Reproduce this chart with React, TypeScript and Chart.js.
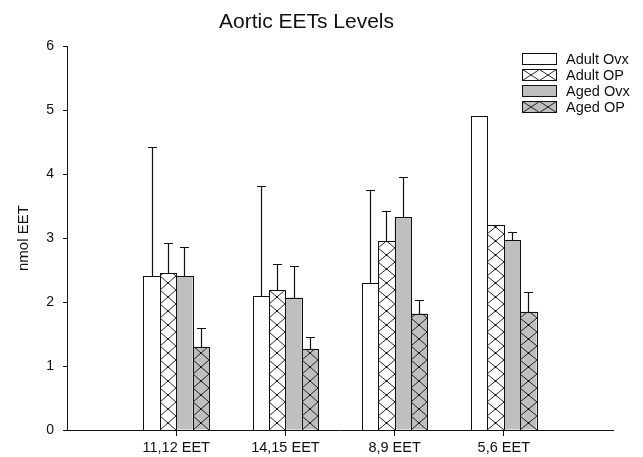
import React, { useEffect, useRef } from "react";
import { Chart, registerables } from "chart.js";

Chart.register(...registerables);

// ---------- data ----------
const categories = ["11,12 EET", "14,15 EET", "8,9 EET", "5,6 EET"];
const seriesNames = ["Adult Ovx", "Adult OP", "Aged Ovx", "Aged OP"];
const adultOvx = [2.4, 2.1, 2.3, 4.91];
const adultOvxErr = [2.03, 1.72, 1.45, null];
const adultOP = [2.46, 2.19, 2.96, 3.2];
const adultOPErr = [0.46, 0.41, 0.47, null];
const agedOvx = [2.4, 2.07, 3.33, 2.97];
const agedOvxErr = [0.46, 0.49, 0.62, 0.13];
const agedOP = [1.3, 1.27, 1.82, 1.85];
const agedOPErr = [0.3, 0.19, 0.21, 0.3];
const yTicks = [0, 1, 2, 3, 4, 5, 6];
const titleText = "Aortic EETs Levels";
const yTitle = "nmol EET";

// ---------- style ----------
const FONT = "'Liberation Sans', Arial, sans-serif";
const INK = "#111111";
const GRAY = "#bfbfbf";

const pad = (arr: (number | null)[]) => [null, ...arr, null];
const labels = ["", ...categories, ""];

function drawHatch(ctx: CanvasRenderingContext2D, left: number, top: number, w: number, h: number, cellW: number, cellH: number, dots: boolean) {
  const bottom = top + h;
  ctx.save();
  ctx.beginPath();
  ctx.rect(left, top, w, h);
  ctx.clip();
  ctx.strokeStyle = INK;
  ctx.lineWidth = 0.9;
  ctx.beginPath();
  for (let cx = left; cx < left + w - 0.5; cx += cellW) {
    for (let yk = bottom; yk > top - cellH; yk -= cellH) {
      ctx.moveTo(cx, yk);
      ctx.lineTo(cx + cellW, yk - cellH);
      ctx.moveTo(cx + cellW, yk);
      ctx.lineTo(cx, yk - cellH);
    }
  }
  ctx.stroke();
  if (dots) {
    ctx.fillStyle = INK;
    for (let cx = left; cx < left + w - 0.5; cx += cellW) {
      for (let yk = bottom; yk > top - cellH; yk -= cellH) {
        ctx.beginPath();
        ctx.arc(cx + cellW / 2, yk - cellH / 2, 1.1, 0, Math.PI * 2);
        ctx.fill();
      }
    }
  }
  ctx.restore();
}

const barDecor = {
  id: "barDecor",
  afterDatasetsDraw(chart: any) {
    const ctx = chart.ctx as CanvasRenderingContext2D;
    const yScale = chart.scales.y;
    // hatch + crisp borders
    chart.data.datasets.forEach((ds: any, di: number) => {
      const meta = chart.getDatasetMeta(di);
      meta.data.forEach((bar: any, i: number) => {
        const v = ds.data[i];
        if (v == null) return;
        const { x, y, base, width } = bar.getProps(["x", "y", "base", "width"], true);
        const l = Math.round(x - width / 2);
        const r = Math.round(x + width / 2);
        const t = Math.round(y);
        const b = Math.round(base);
        if (ds.hatched) {
          drawHatch(ctx, l, t, r - l, b - t, r - l, 14, true);
        }
        ctx.save();
        ctx.strokeStyle = INK;
        ctx.lineWidth = 1;
        ctx.strokeRect(l + 0.5, t + 0.5, r - l, b - t);
        ctx.restore();
      });
    });
    // error bars
    chart.data.datasets.forEach((ds: any, di: number) => {
      const meta = chart.getDatasetMeta(di);
      meta.data.forEach((bar: any, i: number) => {
        const v = ds.data[i];
        const e = ds.errors ? ds.errors[i] : null;
        if (v == null || e == null) return;
        const { x, y } = bar.getProps(["x", "y"], true);
        const yTop = yScale.getPixelForValue(v + e);
        const cx = Math.round(x) + 0.5;
        const ty = Math.round(yTop) + 0.5;
        ctx.save();
        ctx.strokeStyle = INK;
        ctx.lineWidth = 1.2;
        ctx.beginPath();
        ctx.moveTo(cx, Math.round(y));
        ctx.lineTo(cx, ty);
        ctx.moveTo(cx - 4.5, ty);
        ctx.lineTo(cx + 4.5, ty);
        ctx.stroke();
        ctx.restore();
      });
    });
  },
};

const customLegend = {
  id: "customLegend",
  afterDraw(chart: any) {
    const ctx = chart.ctx as CanvasRenderingContext2D;
    const bx = 522.5;
    const bw = 34;
    const bh = 11;
    const y0 = 58.5;
    const step = 16;
    chart.data.datasets.forEach((ds: any, i: number) => {
      const cy = y0 + i * step;
      const top = Math.round(cy - bh / 2) + 0.5;
      ctx.save();
      ctx.fillStyle = ds.backgroundColor;
      ctx.fillRect(bx, top, bw, bh);
      if (ds.hatched) drawHatch(ctx, bx, top, bw, bh, bw / 2, bh, false);
      ctx.strokeStyle = INK;
      ctx.lineWidth = 1;
      ctx.strokeRect(bx, top, bw, bh);
      ctx.fillStyle = INK;
      ctx.font = `14.5px ${FONT}`;
      ctx.textBaseline = "middle";
      ctx.textAlign = "left";
      ctx.fillText(ds.label, 566, cy + 1);
      ctx.restore();
    });
  },
};

export default function App() {
  const ref = useRef<HTMLCanvasElement | null>(null);

  useEffect(() => {
    if (!ref.current) return;
    const common = {
      borderWidth: 0,
      categoryPercentage: 0.6,
      barPercentage: 1.0,
    };
    const chart = new Chart(ref.current, {
      type: "bar",
      data: {
        labels,
        datasets: [
          { label: seriesNames[0], data: pad(adultOvx), errors: pad(adultOvxErr), hatched: false, backgroundColor: "#ffffff", ...common },
          { label: seriesNames[1], data: pad(adultOP), errors: pad(adultOPErr), hatched: true, backgroundColor: "#ffffff", ...common },
          { label: seriesNames[2], data: pad(agedOvx), errors: pad(agedOvxErr), hatched: false, backgroundColor: GRAY, ...common },
          { label: seriesNames[3], data: pad(agedOP), errors: pad(agedOPErr), hatched: true, backgroundColor: GRAY, ...common },
        ] as any,
      },
      options: {
        animation: false,
        responsive: false,
        layout: { padding: { left: 0, right: 30, top: 0, bottom: 0 } },
        plugins: {
          legend: { display: false },
          tooltip: { enabled: false },
          title: {
            display: true,
            text: titleText,
            color: INK,
            font: { family: FONT, size: 21, weight: "normal" },
            padding: { top: 10, bottom: 11 },
          },
        },
        scales: {
          x: {
            type: "category",
            offset: false,
            grid: {
              offset: false,
              drawOnChartArea: false,
              drawTicks: true,
              tickLength: 6,
              lineWidth: 1,
              color: (c: any) => (c.index === 0 || c.index === labels.length - 1 ? "rgba(0,0,0,0)" : INK),
            },
            border: { display: true, color: INK, width: 1 },
            ticks: { color: INK, font: { family: FONT, size: 14.5 }, padding: 3, maxRotation: 0, autoSkip: false },
            afterFit: (s: any) => {
              s.height = 27;
            },
          },
          y: {
            min: 0,
            max: 6,
            afterBuildTicks: (s: any) => {
              s.ticks = yTicks.map((v) => ({ value: v }));
            },
            grid: { drawOnChartArea: false, drawTicks: true, tickLength: 4, color: INK },
            border: { display: true, color: INK, width: 1 },
            ticks: { color: INK, font: { family: FONT, size: 14 }, padding: 9 },
            title: {
              display: true,
              text: yTitle,
              color: INK,
              font: { family: FONT, size: 15 },
              padding: { top: 15, bottom: 0 },
            },
            afterFit: (s: any) => {
              s.width = 67;
            },
          },
        },
      } as any,
      plugins: [barDecor, customLegend],
    });
    return () => chart.destroy();
  }, []);

  return (
    <div style={{ position: "fixed", left: 0, top: 0, width: 643, height: 457, background: "#fff" }}>
      <canvas ref={ref} width={643} height={457} style={{ display: "block" }} />
    </div>
  );
}
